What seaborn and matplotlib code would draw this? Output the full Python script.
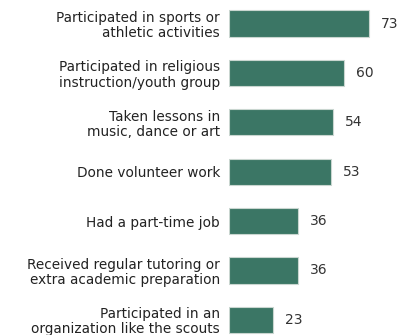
import matplotlib
matplotlib.use("Agg")
import matplotlib.pyplot as plt
import seaborn as sns
import pandas as pd

categories = [
    "Participated in sports or\nathletic activities",
    "Participated in religious\ninstruction/youth group",
    "Taken lessons in\nmusic, dance or art",
    "Done volunteer work",
    "Had a part-time job",
    "Received regular tutoring or\nextra academic preparation",
    "Participated in an\norganization like the scouts",
]
values = [73, 60, 54, 53, 36, 36, 23]

df = pd.DataFrame({"activity": categories, "pct": values})

sns.set_theme(style="white")
plt.rcParams['font.family'] = ['DejaVu Sans']

fig = plt.figure(figsize=(4.11, 3.35), dpi=100)
ax = fig.add_axes([229/411, 0, (411-229)/411, 1])

sns.barplot(data=df, x="pct", y="activity", orient="h", color="#3b7665",
            saturation=1, width=0.53, edgecolor="#c9d6d0", linewidth=0.8, ax=ax)

ax.set_xlim(0, 94.9)
ax.set_ylim(6.306, -0.476)
ax.set_xlabel("")
ax.set_ylabel("")
ax.set_xticks([])
for s in ax.spines.values():
    s.set_visible(False)
ax.tick_params(axis="y", length=0, pad=6.5, labelsize=9.8, labelcolor="#222222")
for lab in ax.get_yticklabels():
    lab.set_linespacing(1.1)

for i, v in enumerate(values):
    ax.text(v + 6.2, i, str(v), va="center", ha="left", fontsize=10, color="#333333")

fig.savefig("out.png", dpi=100)
